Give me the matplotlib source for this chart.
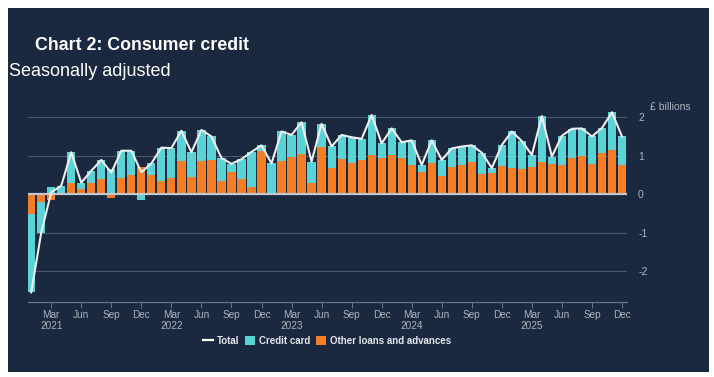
# -------------------------------------------------------------------------- #
# ------------------------- Imported Modules --------------------------------#

import numpy as np
import pandas as pd
import matplotlib
matplotlib.use("Agg")
import matplotlib.pyplot as plt
from matplotlib.patches import Rectangle, Patch
from matplotlib.lines import Line2D

# -------------------------------------------------------------------------- #
# ------------------------- Chart Data --------------------------------------#

months = pd.date_range("2021-01-01", "2025-12-01", freq="MS")

# Other loans and advances (£ billions)
otherLoans = [-0.52, -0.20, -0.15, 0.01, 0.29, 0.14, 0.29, 0.39, -0.09, 0.42,
              0.49, 0.72, 0.49, 0.35, 0.42, 0.87, 0.45, 0.87, 0.88, 0.35,
              0.59, 0.39, 0.18, 1.13, 0.00, 0.87, 0.96, 1.05, 0.29, 1.23,
              0.68, 0.92, 0.81, 0.89, 1.02, 0.95, 1.02, 0.94, 0.76, 0.59,
              0.81, 0.48, 0.72, 0.75, 0.84, 0.53, 0.55, 0.74, 0.68, 0.65,
              0.71, 0.83, 0.79, 0.76, 0.94, 1.00, 0.79, 1.08, 1.15, 0.76]

# Credit card (£ billions)
creditCard = [-2.03, -0.80, 0.20, 0.21, 0.80, 0.16, 0.32, 0.50, 0.65, 0.71,
              0.64, -0.15, 0.31, 0.86, 0.78, 0.78, 0.64, 0.80, 0.62, 0.59,
              0.20, 0.52, 0.92, 0.14, 0.80, 0.76, 0.58, 0.82, 0.56, 0.60,
              0.56, 0.62, 0.67, 0.55, 1.04, 0.37, 0.69, 0.41, 0.64, 0.17,
              0.59, 0.41, 0.47, 0.49, 0.43, 0.55, 0.13, 0.54, 0.95, 0.73,
              0.31, 1.20, 0.19, 0.76, 0.76, 0.71, 0.71, 0.64, 0.98, 0.74]

yTicks = [-2, -1, 0, 1, 2]
yTickLabels = ["-2", "-1", "0", "1", "2"]

# -------------------------------------------------------------------------- #
# ------------------------- Styling -----------------------------------------#

bgColor = "#1a2840"
cardColor = "#5ad3d6"
otherColor = "#f57d26"
textColor = "#aeb4bd"
plt.rcParams["font.family"] = ["Liberation Sans", "DejaVu Sans"]

# -------------------------------------------------------------------------- #
# ------------------------- Plotting ----------------------------------------#

other = np.array(otherLoans)
card = np.array(creditCard)
total = other + card
x = np.arange(len(months))

# Credit card sits on top of other loans when both share a sign
cardBottom = np.where(np.sign(card) == np.sign(other), other, 0)

fig = plt.figure(figsize=(7.14, 3.77), dpi=100, facecolor="white")
fig.patches.append(Rectangle((8 / 714, 5 / 377), 701 / 714, 364 / 377,
                             transform=fig.transFigure, facecolor=bgColor,
                             edgecolor="none", zorder=-10))

ax = fig.add_axes([27.5 / 714, 75 / 377, 599.5 / 714, 204 / 377])
ax.set_facecolor("none")
ax.set_zorder(5)

ax.bar(x, other, width=0.82, color=otherColor, zorder=2)
ax.bar(x, card, bottom=cardBottom, width=0.82, color=cardColor, zorder=2)
ax.plot(x, total, color="#eef0f2", linewidth=1.5, zorder=4)

# Grid and zero line
for yv in yTicks:
    if yv == 0:
        ax.axhline(0, color="#c4c8cc", linewidth=1.6, zorder=3)
    else:
        ax.axhline(yv, color="#4a5a70", linewidth=0.8, zorder=1)

ax.set_xlim(-0.37, 59.5)
ax.set_ylim(-2.8, 2.5)

# X axis ticks every quarter, year under March
tickPos = [i for i, m in enumerate(months) if m.month in (3, 6, 9, 12)]
tickLab = [m.strftime("%b") + ("\n" + str(m.year) if m.month == 3 else "")
           for m in months if m.month in (3, 6, 9, 12)]
ax.set_xticks(tickPos)
ax.set_xticklabels(tickLab, fontsize=7.2, color=textColor, linespacing=1.1)
ax.tick_params(axis="x", length=4, width=0.7, color="#6a7686", pad=2)

ax.yaxis.tick_right()
ax.set_yticks(yTicks)
ax.set_yticklabels(yTickLabels, fontsize=7.5, color=textColor)
ax.tick_params(axis="y", length=0, pad=8)

for side in ["top", "left", "right"]:
    ax.spines[side].set_visible(False)
ax.spines["bottom"].set_color("#6a7686")
ax.spines["bottom"].set_linewidth(0.9)

# Titles
fig.text(35 / 714, 1 - 45 / 377, "Chart 2: Consumer credit", fontsize=12.8,
         fontweight="bold", color="white", va="center", ha="left")
fig.text(9 / 714, 1 - 71 / 377, "Seasonally adjusted", fontsize=13,
         color="white", va="center", ha="left")
fig.text(650 / 714, 1 - 107 / 377, "£ billions", fontsize=7.5,
         color=textColor, va="center", ha="left")

# Legend
handles = [Line2D([0], [0], color="white", linewidth=1.6),
           Patch(facecolor=cardColor), Patch(facecolor=otherColor)]
labels = ["Total", "Credit card", "Other loans and advances"]
leg = fig.legend(handles, labels, loc="center", bbox_to_anchor=(327 / 714, 1 - 341 / 377),
                 ncol=3, frameon=False, handlelength=1.0, handleheight=1.0,
                 handletextpad=0.4, columnspacing=0.6,
                 prop={"weight": "bold", "size": 7})
for t in leg.get_texts():
    t.set_color("#e4e6ea")

fig.savefig("out.png", dpi=100, facecolor="white")
